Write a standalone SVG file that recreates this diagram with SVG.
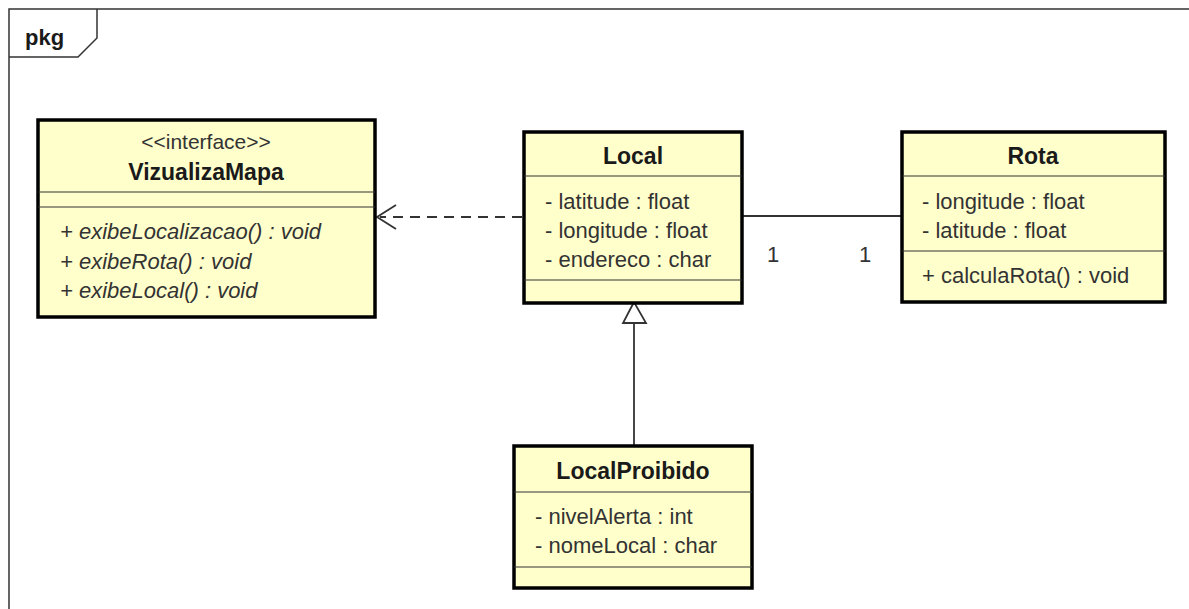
<svg xmlns="http://www.w3.org/2000/svg" width="1189" height="609" viewBox="0 0 1189 609">
  <style>
    text { font-family: "Liberation Sans", Arial, sans-serif; }
    .frame { fill: none; stroke: #333; stroke-width: 1.5; }
    .box { fill: #ffffcc; stroke: #000; stroke-width: 3.5; }
    .div { stroke: #333; stroke-width: 1.2; }
    .title { font-size: 23px; font-weight: bold; fill: #1a1a1a; text-anchor: middle; }
    .stereo { font-size: 21px; fill: #333; text-anchor: middle; }
    .member { font-size: 22px; fill: #333; }
    .op { font-size: 22px; fill: #333; font-style: italic; }
    .edge { fill: none; stroke: #333; stroke-width: 1.8; }
    .mult { font-size: 22px; fill: #333; }
  </style>

  <!-- package frame -->
  <g id="frame">
    <path class="frame" d="M9,609 V9 H1189"/>
    <path class="frame" d="M9,57 H78 L97,38 V9"/>
    <text x="25" y="45" style="font-size:22px;font-weight:bold;fill:#1a1a1a">pkg</text>
  </g>

  <!-- connectors -->
  <g id="connectors">
    <!-- dependency Local -> VizualizaMapa -->
    <line class="edge" x1="522" y1="217" x2="380" y2="217" stroke-dasharray="10,7"/>
    <path class="edge" d="M396,205 L377,217 L396,229"/>
    <!-- association Local - Rota -->
    <line class="edge" x1="742" y1="216" x2="902" y2="216"/>
    <text class="mult" x="767" y="262">1</text>
    <text class="mult" x="859" y="262">1</text>
    <!-- generalization LocalProibido -> Local -->
    <line class="edge" x1="634" y1="446" x2="634" y2="323"/>
    <path d="M634,302 L623,323 L646,323 Z" fill="#fff" stroke="#333" stroke-width="1.8"/>
  </g>

  <!-- interface VizualizaMapa -->
  <g id="VizualizaMapa">
    <rect class="box" x="38" y="120" width="337" height="197"/>
    <line class="div" x1="38" y1="192" x2="375" y2="192"/>
    <line class="div" x1="38" y1="207" x2="375" y2="207"/>
    <text class="stereo" x="206" y="149">&lt;&lt;interface&gt;&gt;</text>
    <text class="title" x="206" y="180">VizualizaMapa</text>
    <text class="op" x="60" y="239">+ exibeLocalizacao() : void</text>
    <text class="op" x="60" y="269">+ exibeRota() : void</text>
    <text class="op" x="60" y="298">+ exibeLocal() : void</text>
  </g>

  <!-- class Local -->
  <g id="Local">
    <rect class="box" x="524" y="132" width="218" height="171"/>
    <line class="div" x1="524" y1="176" x2="742" y2="176"/>
    <line class="div" x1="524" y1="280" x2="742" y2="280"/>
    <text class="title" x="633" y="164">Local</text>
    <text class="member" x="545" y="209">- latitude : float</text>
    <text class="member" x="545" y="238">- longitude : float</text>
    <text class="member" x="545" y="267">- endereco : char</text>
  </g>

  <!-- class Rota -->
  <g id="Rota">
    <rect class="box" x="902" y="132" width="263" height="170"/>
    <line class="div" x1="902" y1="176" x2="1165" y2="176"/>
    <line class="div" x1="902" y1="251" x2="1165" y2="251"/>
    <text class="title" x="1033" y="164">Rota</text>
    <text class="member" x="922" y="209">- longitude : float</text>
    <text class="member" x="922" y="238">- latitude : float</text>
    <text class="member" x="922" y="283">+ calculaRota() : void</text>
  </g>

  <!-- class LocalProibido -->
  <g id="LocalProibido">
    <rect class="box" x="514" y="446" width="238" height="142"/>
    <line class="div" x1="514" y1="492" x2="752" y2="492"/>
    <line class="div" x1="514" y1="567" x2="752" y2="567"/>
    <text class="title" x="633" y="479">LocalProibido</text>
    <text class="member" x="535" y="524">- nivelAlerta : int</text>
    <text class="member" x="535" y="553">- nomeLocal : char</text>
  </g>
</svg>
